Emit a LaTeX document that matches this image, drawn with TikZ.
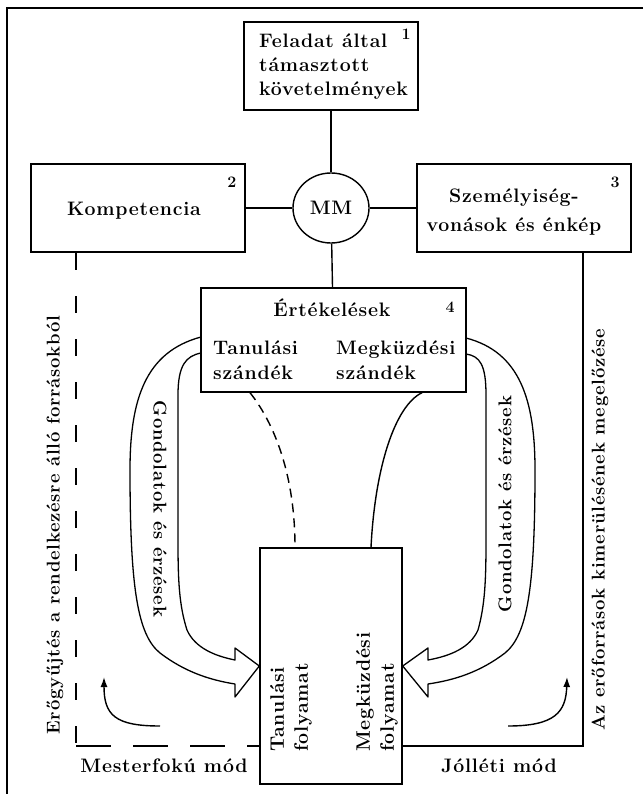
\documentclass[tikz,border=0pt]{standalone}
\usepackage{fontspec}
\setmainfont{Latin Modern Roman}[LetterSpace=4]
\usetikzlibrary{shapes.geometric,arrows.meta}
\tikzset{
  doboz/.style={draw, line width=1.4pt, inner sep=0pt},
  vastagdoboz/.style={draw, line width=2.4pt, inner sep=0pt},
  szam/.style={font=\fontsize{16}{18}\selectfont\bfseries},
  felirat/.style={font=\fontsize{19.5}{24}\selectfont\bfseries, inner sep=0pt},
  oldalfelirat/.style={font=\fontsize{18.5}{24}\selectfont\bfseries, inner sep=0pt},
  vonal/.style={line width=1.4pt},
  nagynyil/.style={line width=1.3pt, line join=round},
}
\begin{document}
\begin{tikzpicture}[x=1pt, y=-1pt]
\useasboundingbox (0,0) rectangle (643,794);
% Keret
\draw[line width=1.8pt] (643,8) -- (7,8) -- (7,794);
% Feladat
\node[doboz, minimum width=174, minimum height=88] (feladat) at (331,66) {};
\node[felirat, align=left, anchor=west] (feladatszoveg) at (259,67) {Feladat által\\ támasztott\\ követelmények};
\node[szam] (egy) at (406,34) {1};
% Kompetencia
\node[vastagdoboz, minimum width=214, minimum height=88] (kompetencia) at (138,208) {};
\node[felirat] (kompszoveg) at (134,211) {Kompetencia};
\node[szam] (ketto) at (232,182) {2};
% MM
\node[draw, ellipse, line width=1.4pt, minimum width=76, minimum height=70, felirat] (mm) at (331,208) {MM};
% Szemelyiseg
\node[vastagdoboz, minimum width=214, minimum height=88] (szemelyiseg) at (524,208) {};
\node[felirat, align=center, font=\fontsize{19.5}{29}\selectfont\bfseries] (szemszoveg) at (514,212) {Személyiség-\\ vonások és énkép};
\node[szam] (harom) at (615,182) {3};
% Ertekelesek
\node[doboz, minimum width=265, minimum height=104] (ertekeles) at (333.5,340) {};
\node[felirat] (ertszoveg) at (332,308) {Értékelések};
\node[szam] (negy) at (450,307) {4};
\node[felirat, align=left, anchor=west, font=\fontsize{19.5}{25}\selectfont\bfseries] (tanszandek) at (213,360) {Tanulási\\ szándék};
\node[felirat, align=left, anchor=west, font=\fontsize{19.5}{25}\selectfont\bfseries] (megszandek) at (336,360) {Megküzdési\\ szándék};
% Folyamat
\node[doboz, minimum width=142, minimum height=236] (folyamat) at (331,666) {};
\node[felirat, align=left, anchor=west, rotate=90] (tanfoly) at (291,752) {Tanulási\\ folyamat};
\node[felirat, align=left, anchor=west, rotate=90] (megfoly) at (377,752) {Megküzdési\\ folyamat};
% Kapcsolatok
\draw[vonal] (feladat) -- (mm);
\draw[vonal] (kompetencia) -- (mm);
\draw[vonal] (mm) -- (szemelyiseg);
\draw[vonal] (mm) -- (ertekeles);
\draw[vonal, dash pattern=on 9 off 6] ([xshift=-83.5]ertekeles.south) .. controls +(20,25) and +(0,-80) .. ([xshift=-36]folyamat.north);
\draw[vonal] ([xshift=88.5]ertekeles.south) .. controls +(-27,13) and +(4,-80) .. ([xshift=40]folyamat.north);
% Mesterfoku es jolleti mod
\coordinate (balsarok) at (76,746);
\draw[vonal, dash pattern=on 17 off 26] ([xshift=-62]kompetencia.south) -- (balsarok);
\draw[vonal, dash pattern=on 35 off 22] (balsarok) -- ([yshift=-80]folyamat.west);
\draw[vonal] ([xshift=59]szemelyiseg.south) |- ([yshift=-80]folyamat.east);
\node[felirat] (mester) at (164,766) {Mesterfokú mód};
\node[felirat] (jolleti) at (499,766) {Jólléti mód};
\node[oldalfelirat, rotate=90] (erogyujtes) at (55,525) {Erőgyűjtés a rendelkezésre álló forrásokból};
\node[oldalfelirat, rotate=90] (kimerules) at (600,530) {Az erőforrások kimerülésének megelőzése};
% Gondolatok es erzesek
\draw[nagynyil] (201,337) .. controls (145,352) and (130,400) .. (130,470)
  .. controls (130,590) and (138,635) .. (160,653) .. controls (185,672) and (210,680) .. (235,684)
  -- (235,697) -- (folyamat.west) -- (235,648) -- (235,660)
  .. controls (215,656) and (195,648) .. (187,630) .. controls (179,605) and (178,580) .. (178,540)
  -- (178,395) .. controls (178,365) and (186,356) .. (201,353);
\draw[nagynyil] (466,338) .. controls (520,352) and (535,400) .. (535,470)
  .. controls (535,590) and (527,635) .. (505,653) .. controls (480,672) and (455,680) .. (428,684)
  -- (428,697) -- (folyamat.east) -- (428,648) -- (428,660)
  .. controls (450,656) and (470,648) .. (478,630) .. controls (485,605) and (486,580) .. (486,540)
  -- (486,395) .. controls (486,365) and (480,356) .. (466,354);
\node[oldalfelirat, rotate=-90] (gondbal) at (160,509) {Gondolatok és érzések};
\node[oldalfelirat, rotate=90] (gondjobb) at (505,504) {Gondolatok és érzések};
% Kis nyilak
\coordinate (balkezd) at (160,726);
\coordinate (balveg) at (104,677);
\coordinate (jobbkezd) at (508,726);
\coordinate (jobbveg) at (567,677);
\draw[vonal, -{Latex[length=10,width=7]}] (balkezd) .. controls (115,726) and (104,715) .. (balveg);
\draw[vonal, -{Latex[length=10,width=7]}] (jobbkezd) .. controls (555,726) and (566,712) .. (jobbveg);
\end{tikzpicture}
\end{document}
